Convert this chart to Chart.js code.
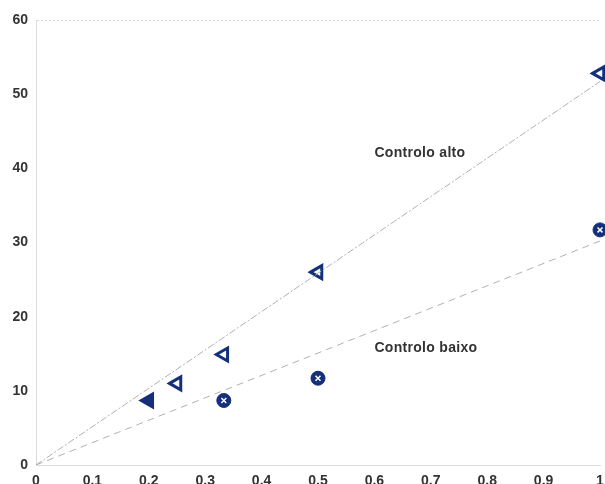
<!DOCTYPE html>
<html>
<head>
<meta charset="utf-8">
<script src="https://cdn.jsdelivr.net/npm/chart.js@4.4.1/dist/chart.umd.min.js"></script>
<style>
  html, body { margin: 0; padding: 0; background: #fff; }
  #wrap { width: 605px; height: 484px; }
</style>
</head>
<body>
<div id="wrap"><canvas id="c" width="605" height="484"></canvas></div>
<script>
// データ（読み取り値）
const altoX = [0.2, 0.25, 0.333, 0.5, 1];
const altoY = [8.7, 11.0, 14.9, 26.0, 52.8];
const altoFilled = [true, false, false, false, false];
const baixoX = [0.333, 0.5, 1];
const baixoY = [8.7, 11.7, 31.7];
const lineAltoY = [0, 51.7];
const lineBaixoY = [0, 30.2];
const lineX = [0, 1];
const lineLabels = ['Controlo alto', 'Controlo baixo'];
const lineLabelPos = [[0.60, 42.0], [0.60, 15.8]];

const navy = '#14307a';
const tickFont = { family: '"Liberation Sans", Arial, sans-serif', size: 14, weight: 'bold' };

function pts(xs, ys) {
  return xs.map((x, i) => ({ x: x, y: ys[i] }));
}

// 線ラベルを描くプラグイン
const lineLabelPlugin = {
  id: 'lineLabels',
  afterDatasetsDraw(chart) {
    const ctx = chart.ctx;
    const xs = chart.scales.x, ys = chart.scales.y;
    ctx.save();
    ctx.font = 'bold 14px "Liberation Sans", Arial, sans-serif';
    ctx.letterSpacing = '0.3px';
    ctx.fillStyle = '#333';
    ctx.textBaseline = 'middle';
    lineLabels.forEach((t, i) => {
      ctx.fillText(t, xs.getPixelForValue(lineLabelPos[i][0]), ys.getPixelForValue(lineLabelPos[i][1]));
    });
    ctx.restore();
  }
};

new Chart(document.getElementById('c'), {
  type: 'scatter',
  data: {
    datasets: [
      {
        type: 'line',
        data: pts(lineX, lineAltoY),
        borderColor: '#b0b0b8',
        borderWidth: 1,
        borderDash: [7, 2, 2, 2],
        pointRadius: 0,
        fill: false
      },
      {
        type: 'line',
        data: pts(lineX, lineBaixoY),
        borderColor: '#b0b0b8',
        borderWidth: 1,
        borderDash: [7, 5],
        pointRadius: 0,
        fill: false
      },
      {
        data: pts(altoX, altoY),
        pointStyle: 'triangle',
        pointRotation: 270,
        pointRadius: 7.5,
        pointBorderWidth: 3,
        pointBorderColor: navy,
        pointBackgroundColor: altoFilled.map(f => f ? navy : '#fff'),
        clip: false
      },
      {
        data: pts(baixoX, baixoY),
        pointStyle: 'circle',
        pointRadius: 7,
        pointBorderWidth: 1,
        pointBorderColor: navy,
        pointBackgroundColor: navy,
        clip: false
      },
      {
        data: pts(baixoX, baixoY),
        order: -1,
        pointStyle: 'crossRot',
        pointRadius: 3.5,
        pointBorderWidth: 1.5,
        pointBorderColor: '#fff',
        clip: false
      }
    ]
  },
  options: {
    responsive: false,
    animation: false,
    layout: { autoPadding: false, padding: { left: 0, right: 5, top: 20, bottom: 0 } },
    plugins: {
      legend: { display: false },
      tooltip: { enabled: false }
    },
    scales: {
      x: {
        type: 'linear',
        min: 0,
        max: 1,
        ticks: {
          stepSize: 0.1,
          color: '#333',
          font: tickFont,
          padding: 0,
          maxRotation: 0,
          callback: v => String(Number(v.toFixed(1)))
        },
        grid: { display: false },
        border: { color: '#dcdce0', dash: [2, 2] },
        afterFit(s) { s.height = 19; s.paddingLeft = 0; s.paddingRight = 0; }
      },
      y: {
        min: 0,
        max: 60,
        ticks: {
          stepSize: 10,
          color: '#333',
          font: tickFont,
          padding: 8
        },
        grid: {
          color: c => c.tick.value === 60 ? '#d8d8dc' : 'rgba(0,0,0,0)',
          drawTicks: false
        },
        border: { color: '#dcdce0', dash: [2, 2] },
        afterFit(s) { s.width = 36; s.paddingTop = 0; s.paddingBottom = 0; }
      }
    }
  },
  plugins: [lineLabelPlugin]
});
</script>
</body>
</html>
